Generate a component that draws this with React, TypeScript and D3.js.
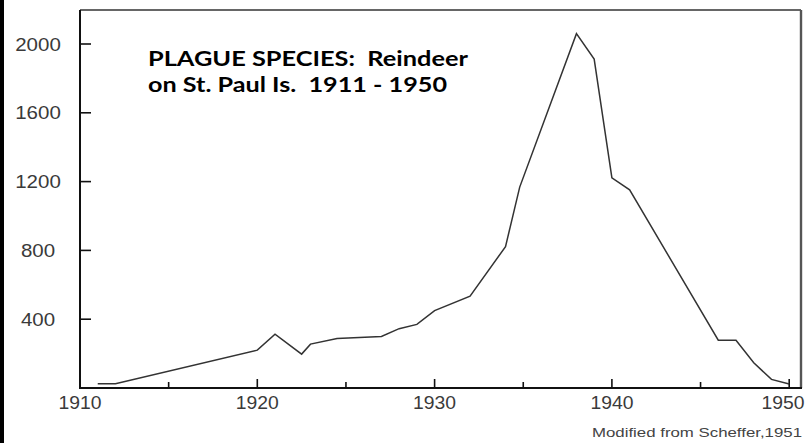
import React from "react";
import * as d3 from "d3";

const years = [1911, 1912, 1920, 1921, 1922.5, 1923, 1924.5, 1927, 1928, 1929, 1930, 1932, 1934, 1934.8, 1938, 1939, 1940, 1941, 1946, 1947, 1948, 1949, 1950];
const counts = [25, 25, 220, 313, 197, 255, 288, 300, 345, 370, 450, 534, 822, 1168, 2060, 1912, 1222, 1152, 278, 278, 147, 50, 23];
const yTickValues = [400, 800, 1200, 1600, 2000];
const xMajorTicks = [1910, 1920, 1930, 1940, 1950];
const xMinorTicks = [1915, 1925, 1935, 1945];
const titleLines = ["PLAGUE SPECIES:  Reindeer", "on St. Paul Is.  1911 - 1950"];
const sourceNote = "Modified from Scheffer,1951";

export default function App() {
  const W = 807, H = 443;
  const left = 80, right = 801, top = 10, bottom = 388;
  const x = d3.scaleLinear().domain([1910, 1950]).range([left, left + 40 * 17.73]);
  const y = d3.scaleLinear().domain([0, 2000]).range([bottom, bottom - 5 * 68.8]);
  const data = years.map((yr, i) => [yr, counts[i]] as [number, number]);
  const line = d3.line<[number, number]>().x(d => x(d[0])).y(d => y(d[1]));
  const labelFont = "'Liberation Sans', Arial, Helvetica, sans-serif";
  return (
    <svg width={W} height={H} style={{ position: "absolute", left: 0, top: 0, background: "#fff" }}>
      <rect x={0} y={0} width={W} height={H} fill="#fff" />
      <rect x={0} y={0} width={4} height={H} fill="#000" />
      {/* frame */}
      <line x1={left} x2={right} y1={top} y2={top} stroke="#333" strokeWidth={1.6} />
      <line x1={right} x2={right} y1={top} y2={bottom} stroke="#555" strokeWidth={2.4} />
      <line x1={left} x2={left} y1={top} y2={bottom + 1} stroke="#111" strokeWidth={2} />
      <line x1={left} x2={right + 1} y1={bottom} y2={bottom} stroke="#111" strokeWidth={2} />
      {/* y ticks */}
      {yTickValues.map(v => (
        <g key={"y" + v}>
          <line x1={left} x2={left + 11} y1={y(v)} y2={y(v)} stroke="#111" strokeWidth={1.6} />
          <text x={38} y={y(v)} dy="0.36em" textAnchor="middle" fontFamily={labelFont} fontSize={18.5} fill="#3a3a3a"
            textLength={String(v).length * 11.4} lengthAdjust="spacingAndGlyphs">{v}</text>
        </g>
      ))}
      {/* x ticks */}
      {xMajorTicks.map(v => (
        <g key={"x" + v}>
          <line x1={x(v)} x2={x(v)} y1={bottom} y2={bottom - 9} stroke="#111" strokeWidth={1.6} />
          <text x={Math.min(x(v), W - 24)} y={409} textAnchor="middle" fontFamily={labelFont} fontSize={18.5} fill="#3a3a3a"
            textLength={43} lengthAdjust="spacingAndGlyphs">{v}</text>
        </g>
      ))}
      {xMinorTicks.map(v => (
        <line key={"m" + v} x1={x(v)} x2={x(v)} y1={bottom} y2={bottom - 6} stroke="#111" strokeWidth={1.6} />
      ))}
      {/* data line */}
      <path d={line(data) || ""} fill="none" stroke="#333" strokeWidth={1.5} strokeLinejoin="miter" />
      {/* title */}
      <text x={148} y={65.5} fontFamily="Lato, 'Open Sans', sans-serif" fontWeight="bold" fontSize={20} fill="#000"
        style={{ whiteSpace: "pre" }} textLength={320} lengthAdjust="spacingAndGlyphs">{titleLines[0]}</text>
      <text x={148} y={91.5} fontFamily="Lato, 'Open Sans', sans-serif" fontWeight="bold" fontSize={20} fill="#000"
        style={{ whiteSpace: "pre" }} textLength={299} lengthAdjust="spacingAndGlyphs">{titleLines[1]}</text>
      {/* source */}
      <text x={802} y={437} textAnchor="end" fontFamily={labelFont} fontSize={13} fill="#444"
        textLength={210} lengthAdjust="spacingAndGlyphs">{sourceNote}</text>
    </svg>
  );
}
